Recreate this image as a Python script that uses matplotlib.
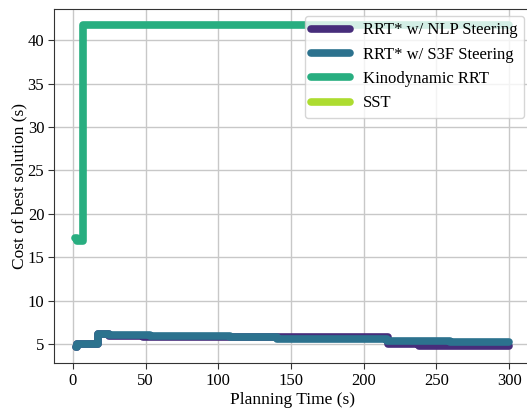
import matplotlib
matplotlib.use("Agg")
import matplotlib.pyplot as plt
from matplotlib import cm

plt.rcParams['font.family'] = ['Liberation Serif', 'DejaVu Serif']

# best-cost traces (time s, cost s), step plots
nlp_t = [2, 3, 17, 25, 48, 217, 238, 300]
nlp_c = [4.6, 5.0, 6.1, 5.95, 5.8, 4.95, 4.72, 4.72]

s3f_t = [2, 3, 17, 25, 53, 108, 140, 216, 259, 300]
s3f_c = [4.6, 5.0, 6.15, 6.0, 5.9, 5.77, 5.62, 5.35, 5.22, 5.22]

kino_t = [1.5, 2.5, 6.8, 300]
kino_c = [17.2, 16.85, 41.7, 41.7]

sst_t = []
sst_c = []

labels = ['RRT* w/ NLP Steering', 'RRT* w/ S3F Steering',
          'Kinodynamic RRT', 'SST']
series = [(nlp_t, nlp_c), (s3f_t, s3f_c), (kino_t, kino_c), (sst_t, sst_c)]
colors = [cm.viridis((i + 0.5) / 4) for i in range(4)]

fig = plt.figure(figsize=(5.27, 4.09), dpi=100)
ax = fig.add_axes([54 / 527, 46 / 409, 477 / 527, 354 / 409])

for (t, c), lab, col in zip(series, labels, colors):
    ax.plot(t, c, drawstyle='steps-post', color=col, lw=5.5,
            solid_capstyle='round', solid_joinstyle='round', label=lab)

ax.set_xlim(-13, 315)
ax.set_ylim(2.8, 43.6)
ax.set_xticks(range(0, 301, 50))
ax.set_yticks(range(5, 41, 5))
ax.grid(True, color='#c8c8c8', lw=1)
ax.set_axisbelow(True)
for s in ax.spines.values():
    s.set_color('#333333')
ax.tick_params(labelsize=12, color='#333333', length=4, pad=3)

ax.set_xlabel('Planning Time (s)', fontsize=12.5, labelpad=2)
ax.set_ylabel('Cost of best solution (s)', fontsize=12.5, labelpad=0)
ax.legend(loc='upper right', fontsize=12, handlelength=2.3,
          borderaxespad=0.4)

fig.savefig('out.png', dpi=100)
